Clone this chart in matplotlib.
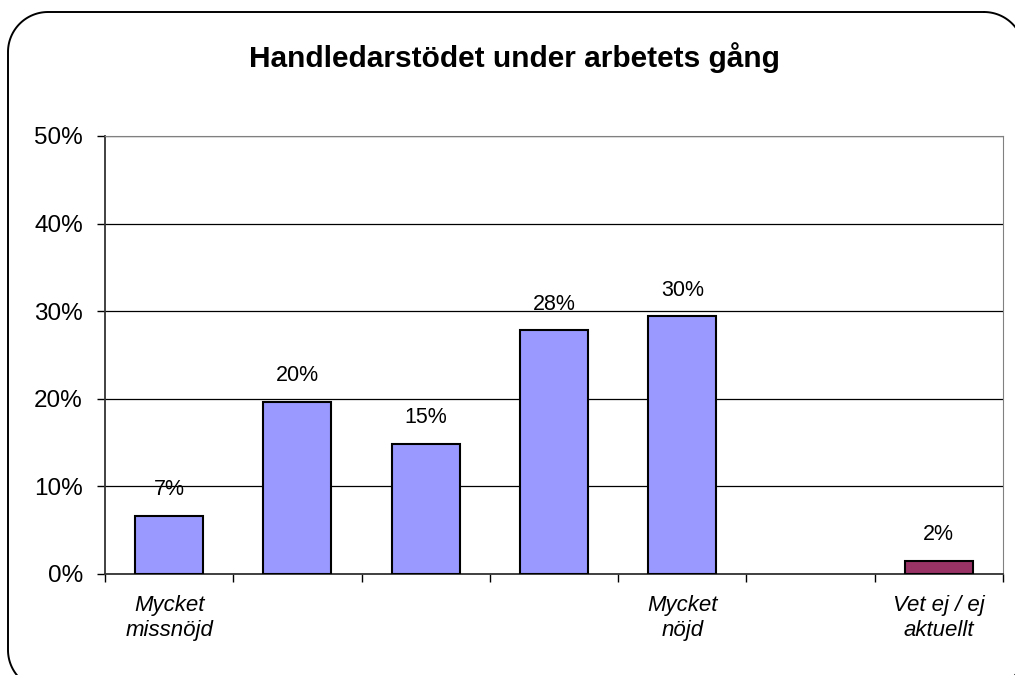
import numpy as np
import matplotlib.pyplot as plt
from matplotlib.lines import Line2D
from matplotlib.transforms import IdentityTransform
from matplotlib.ticker import FixedLocator, PercentFormatter

plt.rcParams['font.family'] = ['Liberation Sans', 'DejaVu Sans']

# data
categories = ['Mycket\nmissnöjd', '', '', '', 'Mycket\nnöjd', '', 'Vet ej / ej\naktuellt']
values = [6.6, 19.6, 14.8, 27.8, 29.4, None, 1.5]
labels = ['7%', '20%', '15%', '28%', '30%', '', '2%']
bar_colors = ['#9999FF'] * 6 + ['#993366']

W, H = 1015, 675
fig = plt.figure(figsize=(W / 100, H / 100), dpi=100)

# rounded outer frame drawn in pixels; right and bottom sides run past the image
x0, x1, yt, yb, r = 8, 1024, 12, 690, 40
corners = [(x1 - r, yt + r, -90, 0), (x1 - r, yb - r, 0, 90),
           (x0 + r, yb - r, 90, 180), (x0 + r, yt + r, 180, 270)]
px, py = [], []
for cx, cy, a0, a1 in corners:
    a = np.radians(np.linspace(a0, a1, 30))
    px.extend(cx + r * np.cos(a))
    py.extend(cy + r * np.sin(a))
px.append(px[0])
py.append(py[0])
fig.add_artist(Line2D(px, [H - v for v in py], transform=IdentityTransform(),
                      color='black', linewidth=1.4))

ax = fig.add_axes([105 / W, 1 - 574 / H, 898 / W, 438 / H])

x = list(range(len(categories)))
for i, v in enumerate(values):
    if v is None:
        continue
    ax.bar(i, v, width=0.53, color=bar_colors[i], edgecolor='black', linewidth=1.5, zorder=3)
    ax.annotate(labels[i], (i, v), xytext=(0, 19), textcoords='offset points',
                ha='center', va='center', fontsize=15.5)

ax.set_xlim(-0.5, len(categories) - 0.5)
ax.set_ylim(0, 50)
ax.set_yticks([0, 10, 20, 30, 40, 50])
ax.yaxis.set_major_formatter(PercentFormatter(decimals=0))
ax.tick_params(axis='y', labelsize=17.5, length=6, width=1, direction='out', pad=10)
ax.yaxis.grid(True, color='black', linewidth=0.9, zorder=0)

ax.set_xticks(x)
ax.set_xticklabels(categories, fontsize=16, style='italic', linespacing=1.25)
ax.tick_params(axis='x', which='major', length=0, pad=15)
ax.xaxis.set_minor_locator(FixedLocator([i + 0.5 for i in range(-1, len(categories))]))
ax.tick_params(axis='x', which='minor', length=6, width=1, direction='out')

for side in ['top', 'right']:
    ax.spines[side].set_color('#808080')
for side in ['left', 'bottom']:
    ax.spines[side].set_color('#333333')
    ax.spines[side].set_linewidth(1.3)

fig.text(514 / W, 1 - 58 / H, 'Handledarstödet under arbetets gång',
         ha='center', va='center', fontsize=21.5, fontweight='bold')

fig.savefig('out.png', dpi=100)
